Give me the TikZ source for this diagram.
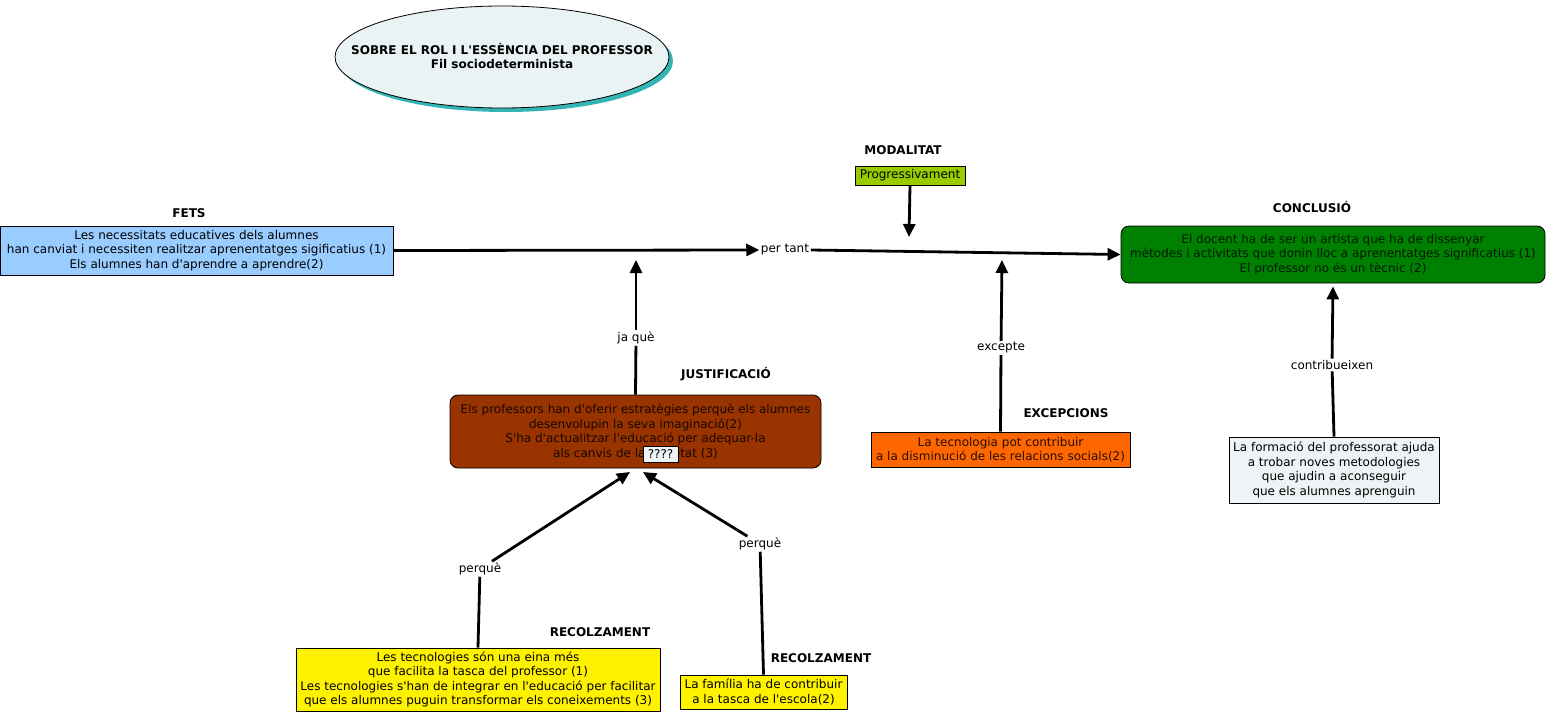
\documentclass[tikz,border=0pt]{standalone}
\usepackage{fontspec}
\setmainfont{DejaVu Sans}[Ligatures=TeXOff]
\usetikzlibrary{arrows.meta,shapes.geometric}
\definecolor{fetsblue}{HTML}{99CCFF}
\definecolor{progreen}{HTML}{99CC00}
\definecolor{concgreen}{HTML}{008000}
\definecolor{justbrown}{HTML}{993300}
\definecolor{excorange}{HTML}{FF6600}
\definecolor{paleblue}{HTML}{EEF4F5}
\definecolor{titlefill}{HTML}{EAF3F4}
\definecolor{shadowteal}{HTML}{33B5B5}
\begin{document}
\begin{tikzpicture}[x=1pt,y=-1pt,
  every node/.style={font=\fontsize{12}{14.5}\selectfont, inner sep=0pt},
  conceptbox/.style={draw=black, line width=0.8pt, align=center, minimum width=#1},
  heading/.style={font=\fontsize{12}{14.5}\selectfont\bfseries},
  linklabel/.style={fill=white, inner sep=1.5pt},
  conn/.style={line width=2.8pt},
  connarrow/.style={line width=2.8pt, -{Triangle[length=13pt,width=12pt]}}
]
\useasboundingbox (0,0) rectangle (1546,715);
\fill[white] (0,0) rectangle (1546,715);

% title
\fill[shadowteal] (506,61) ellipse [x radius=167, y radius=51];
\filldraw[draw=black, line width=0.8pt, fill=titlefill] (502,57) ellipse [x radius=167, y radius=51];
\node[align=center, font=\fontsize{12}{14.5}\selectfont\bfseries] (title) at (502,56)
  {SOBRE EL ROL I L'ESSÈNCIA DEL PROFESSOR\\Fil sociodeterminista};

% headings
\node[heading] (hfets) at (189,213) {FETS};
\node[heading] (hmod) at (903,150) {MODALITAT};
\node[heading] (hconc) at (1312,207) {CONCLUSIÓ};
\node[heading] (hjust) at (726,374) {JUSTIFICACIÓ};
\node[heading] (hexc) at (1066,413) {EXCEPCIONS};
\node[heading] (hrec1) at (600,632) {RECOLZAMENT};
\node[heading] (hrec2) at (821,658) {RECOLZAMENT};

% concept boxes
\node[conceptbox=393pt, minimum height=49pt, fill=fetsblue] (fets) at (196.5,250.5)
  {Les necessitats educatives dels alumnes\\han canviat i necessiten realitzar aprenentatges sigificatius (1)\\Els alumnes han d'aprendre a aprendre(2)};
\node[conceptbox=110pt, minimum height=19pt, fill=progreen] (prog) at (910,175.5) {Progressivament};
\node[conceptbox=424pt, minimum height=57pt, fill=concgreen, rounded corners=8pt, text=black!80!concgreen] (conc) at (1333,254.5)
  {El docent ha de ser un artista que ha de dissenyar\\mètodes i activitats que donin lloc a aprenentatges significatius (1)\\El professor no és un tècnic (2)};
\node[conceptbox=210pt, minimum height=66pt, fill=paleblue] (form) at (1334,470)
  {La formació del professorat ajuda\\a trobar noves metodologies\\que ajudin a aconseguir\\que els alumnes aprenguin};
\node[conceptbox=259pt, minimum height=35pt, fill=excorange, text=black!85!excorange] (exc) at (1000.5,449.5)
  {La tecnologia pot contribuir\\a la disminució de les relacions socials(2)};
\node[conceptbox=371pt, minimum height=73pt, fill=justbrown, rounded corners=8pt, text=black!85!justbrown] (just) at (635.5,431.5)
  {Els professors han d'oferir estratègies perquè els alumnes\\desenvolupin la seva imaginació(2)\\S'ha d'actualitzar l'educació per adequar-la\\als canvis de la societat (3)};
\node[draw=black, line width=0.6pt, fill=paleblue, minimum width=35pt, minimum height=16pt] (qmark) at (660.5,454) {????};
\node[conceptbox=364pt, minimum height=63pt, fill=yellow] (recA) at (478,679.5)
  {Les tecnologies són una eina més\\que facilita la tasca del professor (1)\\Les tecnologies s'han de integrar en l'educació per facilitar\\que els alumnes puguin transformar els coneixements (3)};
\node[conceptbox=167pt, minimum height=34pt, fill=yellow] (recB) at (763.5,692)
  {La família ha de contribuir\\a la tasca de l'escola(2)};

% link labels
\node[linklabel] (pertant) at (785,250) {per tant};
\node[linklabel] (jaque) at (636,338) {ja què};
\node[linklabel] (excepte) at (1001,348) {excepte};
\node[linklabel] (contrib) at (1332,365) {contribueixen};
\node[linklabel] (perqA) at (480,569) {perquè};
\node[linklabel] (perqB) at (760,544) {perquè};

% free ends
\coordinate (modend) at (909,237);
\coordinate (jqend) at (636,260);
\coordinate (exend) at (1002,260);
\coordinate (jA) at (630,472);
\coordinate (jB) at (643,472);

% connectors
\draw[connarrow] (fets.east) -- (pertant.west);
\draw[connarrow] (pertant.east) -- (conc.west);
\draw[connarrow] (prog.south) -- (modend);
\draw[conn] (just.north) -- (jaque);
\draw[connarrow] (jaque) -- (jqend);
\draw[conn] (exc.north) -- (excepte);
\draw[connarrow] (excepte) -- (exend);
\draw[conn] (form.north) -- (contrib);
\draw[connarrow, shorten >=3pt] (contrib) -- (conc.south);
\draw[conn] (recA.north) -- (perqA);
\draw[connarrow] (perqA) -- (jA);
\draw[conn] (recB.north) -- (perqB);
\draw[connarrow] (perqB) -- (jB);
\end{tikzpicture}
\end{document}
